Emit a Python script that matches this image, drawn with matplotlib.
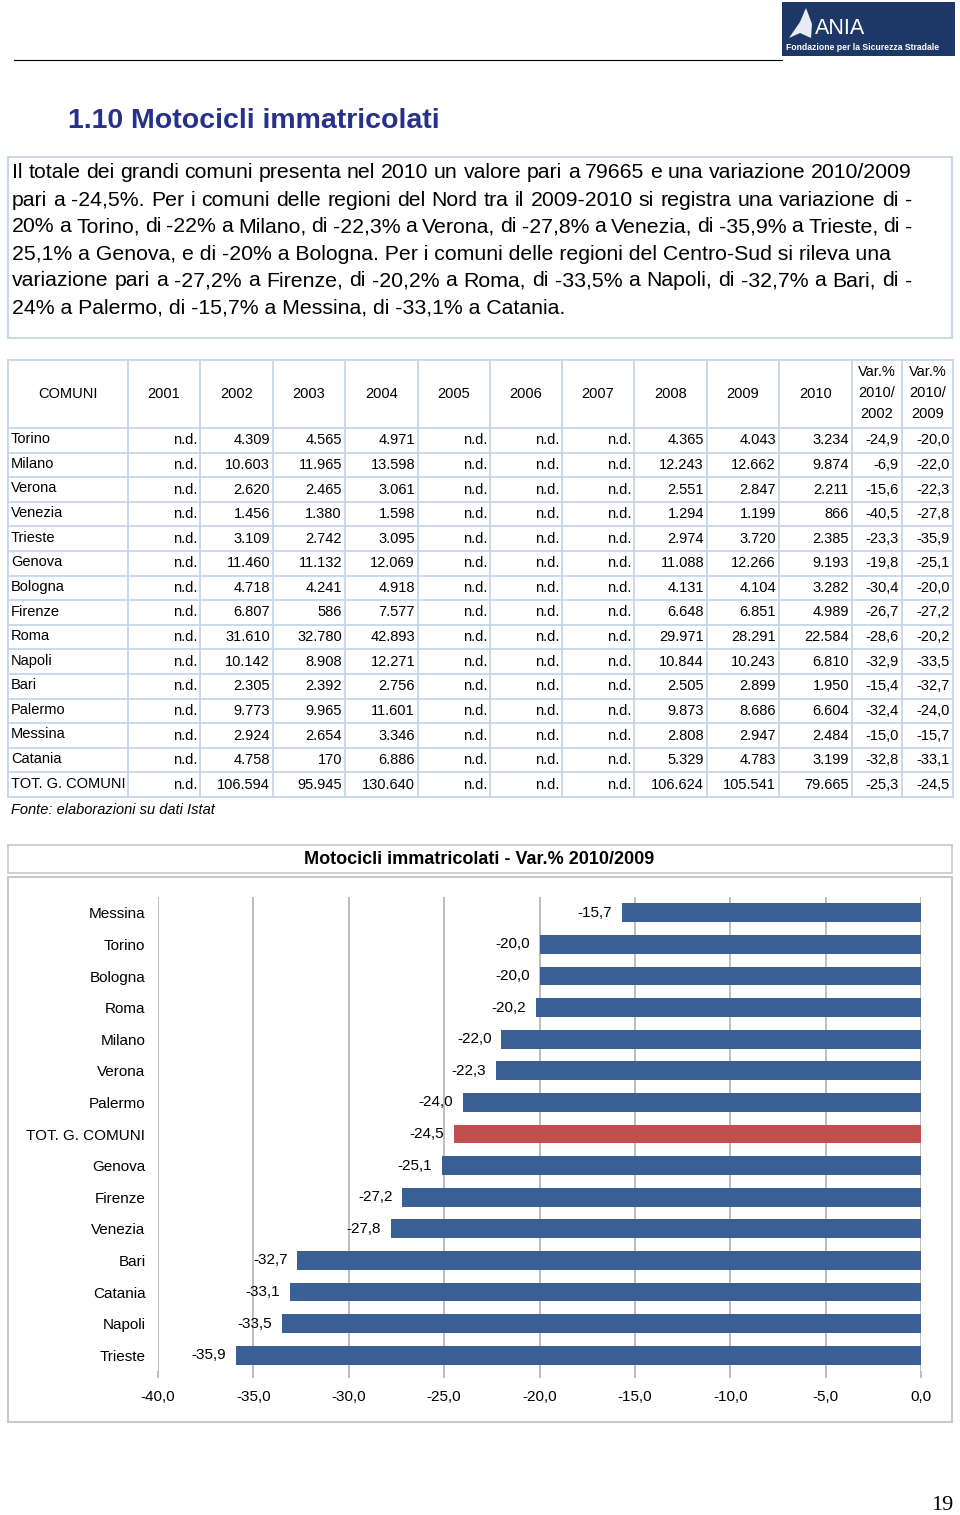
import matplotlib.pyplot as plt
from matplotlib.patches import Rectangle, Polygon

# dati tabella
comuni = ["Torino", "Milano", "Verona", "Venezia", "Trieste", "Genova", "Bologna",
          "Firenze", "Roma", "Napoli", "Bari", "Palermo", "Messina", "Catania",
          "TOT. G. COMUNI"]
anni = ["2001", "2002", "2003", "2004", "2005", "2006", "2007", "2008", "2009", "2010"]
v2002 = [4309, 10603, 2620, 1456, 3109, 11460, 4718, 6807, 31610, 10142, 2305, 9773, 2924, 4758, 106594]
v2003 = [4565, 11965, 2465, 1380, 2742, 11132, 4241, 586, 32780, 8908, 2392, 9965, 2654, 170, 95945]
v2004 = [4971, 13598, 3061, 1598, 3095, 12069, 4918, 7577, 42893, 12271, 2756, 11601, 3346, 6886, 130640]
v2008 = [4365, 12243, 2551, 1294, 2974, 11088, 4131, 6648, 29971, 10844, 2505, 9873, 2808, 5329, 106624]
v2009 = [4043, 12662, 2847, 1199, 3720, 12266, 4104, 6851, 28291, 10243, 2899, 8686, 2947, 4783, 105541]
v2010 = [3234, 9874, 2211, 866, 2385, 9193, 3282, 4989, 22584, 6810, 1950, 6604, 2484, 3199, 79665]
var_2002 = [-24.9, -6.9, -15.6, -40.5, -23.3, -19.8, -30.4, -26.7, -28.6, -32.9, -15.4, -32.4, -15.0, -32.8, -25.3]
var_2009 = [-20.0, -22.0, -22.3, -27.8, -35.9, -25.1, -20.0, -27.2, -20.2, -33.5, -32.7, -24.0, -15.7, -33.1, -24.5]

paragrafo = [
    "Il totale dei grandi comuni presenta nel 2010 un valore pari a 79665 e una variazione 2010/2009",
    "pari a -24,5%. Per i comuni delle regioni del Nord tra il 2009-2010 si registra una variazione di -",
    "20% a Torino, di -22% a Milano, di -22,3% a Verona, di  -27,8% a Venezia, di -35,9% a Trieste, di -",
    "25,1% a Genova, e di -20% a Bologna. Per i comuni delle regioni del Centro-Sud si rileva una",
    "variazione pari a -27,2% a Firenze, di -20,2% a Roma, di -33,5% a Napoli, di -32,7% a Bari, di -",
    "24% a Palermo, di -15,7% a Messina, di -33,1% a Catania.",
]
giustifica = [True, True, True, False, True, False]


def num(v):
    if v is None:
        return "n.d."
    return f"{v:,}".replace(",", ".")


def pct(v):
    return f"{v:.1f}".replace(".", ",")


plt.rcParams['font.family'] = ['Liberation Sans', 'DejaVu Sans']
W, H = 960, 1515
fig = plt.figure(figsize=(9.6, 15.15), dpi=100)
bg = fig.add_axes([0, 0, 1, 1])
bg.set_xlim(0, W)
bg.set_ylim(H, 0)
bg.axis('off')
renderer = fig.canvas.get_renderer()

# intestazione / logo
bg.add_patch(Rectangle((782, 2), 173, 54, facecolor='#1d3866', edgecolor='none'))
bg.add_patch(Polygon([(789, 38), (800, 22), (806, 8), (812, 24), (811, 38), (800, 33)],
                     closed=True, facecolor='#e8ecf2', edgecolor='none'))
bg.text(815, 29, "ANIA", color='white', fontsize=15.5, va='center', ha='left')
bg.text(786, 47, "Fondazione per la Sicurezza Stradale", color='white', fontsize=6.2,
        va='center', ha='left', fontweight='bold')
bg.plot([14, 782], [60, 60], color='black', lw=0.8)

bg.text(68, 121, "1.10 Motocicli immatricolati", color='#27308a', fontsize=20.5,
        fontweight='bold', va='center', ha='left')

# riquadro testo (giustificato)
bg.add_patch(Rectangle((8, 157), 944, 181, facecolor='none', edgecolor='#cdd7e5', lw=1.5))
pfs = 15.3
x_left, x_right = 12, 912
for i, riga in enumerate(paragrafo):
    y = 173 + i * 27
    if not giustifica[i]:
        bg.text(x_left, y, riga, fontsize=pfs, va='center', ha='left')
        continue
    parole = riga.split()
    larg = []
    for p in parole:
        t = bg.text(0, 0, p, fontsize=pfs)
        larg.append(t.get_window_extent(renderer).width)
        t.remove()
    gap = (x_right - x_left - sum(larg)) / (len(parole) - 1)
    x = x_left
    for p, w in zip(parole, larg):
        bg.text(x, y, p, fontsize=pfs, va='center', ha='left')
        x += w + gap

# tabella
col_x = [8, 128, 200, 273, 345, 418, 490, 562, 634, 707, 779, 852, 902, 953]
top, head_bot, row_h = 360, 428, 24.6
n = len(comuni)
bottom = head_bot + n * row_h
grid_c = '#c6d6ea'
for x in col_x:
    bg.plot([x, x], [top, bottom], color=grid_c, lw=1.3)
bg.plot([8, 953], [top, top], color=grid_c, lw=1.3)
bg.plot([8, 953], [head_bot, head_bot], color=grid_c, lw=1.3)
for r in range(n):
    y = head_bot + (r + 1) * row_h
    bg.plot([8, 953], [y, y], color=grid_c, lw=1.3)

hdr_y = (top + head_bot) / 2
tfs = 10.5
bg.text((col_x[0] + col_x[1]) / 2, hdr_y, "COMUNI", fontsize=tfs, ha='center', va='center')
for j, a in enumerate(anni):
    bg.text((col_x[j + 1] + col_x[j + 2]) / 2, hdr_y, a, fontsize=tfs, ha='center', va='center')
for j, a in enumerate(["2002", "2009"]):
    cx = (col_x[11 + j] + col_x[12 + j]) / 2
    bg.text(cx, hdr_y - 1, "Var.%\n2010/\n" + a, fontsize=tfs, ha='center', va='center',
            linespacing=1.6)

for r, nome in enumerate(comuni):
    y = head_bot + (r + 0.5) * row_h
    vals = [None, v2002[r], v2003[r], v2004[r], None, None, None, v2008[r], v2009[r], v2010[r]]
    celle = [num(v) for v in vals] + [pct(var_2002[r]), pct(var_2009[r])]
    bg.text(11, y - 1, nome, fontsize=tfs, ha='left', va='center')
    for j, c in enumerate(celle):
        bg.text(col_x[j + 2] - 3, y, c, fontsize=tfs, ha='right', va='center')

bg.text(11, 810, "Fonte: elaborazioni su dati Istat", fontsize=tfs, style='italic',
        ha='left', va='center')

# grafico
bg.add_patch(Rectangle((8, 845), 944, 28, facecolor='white', edgecolor='#cccccc', lw=1.3))
bg.text(479, 859, "Motocicli immatricolati - Var.% 2010/2009", fontsize=13,
        fontweight='bold', ha='center', va='center')
bg.add_patch(Rectangle((8, 877), 944, 545, facecolor='white', edgecolor='#c8c8c8', lw=1.5))

ordine = sorted(range(n), key=lambda i: -var_2009[i])
nomi_g = [comuni[i] for i in ordine]
vals_g = [var_2009[i] for i in ordine]
colori = ['#c0504d' if comuni[i].startswith("TOT") else '#395f94' for i in ordine]

px0, px1, py0, py1 = 158, 921, 897, 1371
ax = fig.add_axes([px0 / W, 1 - py1 / H, (px1 - px0) / W, (py1 - py0) / H])
ax.set_facecolor('none')
pos = list(range(len(nomi_g)))
ax.barh(pos, vals_g, height=0.6, color=colori, zorder=3)
ax.set_xlim(-40, 0)
ax.set_ylim(len(nomi_g) - 0.5, -0.5)
ax.set_yticks(pos)
ax.set_yticklabels(nomi_g, fontsize=11)
ticks = list(range(-40, 1, 5))
ax.set_xticks(ticks)
ax.set_xticklabels([pct(t) for t in ticks], fontsize=11)
ax.tick_params(axis='y', length=0, pad=9)
ax.tick_params(axis='x', length=5, color='#b8b8b8', width=1.3, pad=8.5)
ax.grid(axis='x', color='#b8b8b8', lw=1.3, zorder=0)
for s in ax.spines.values():
    s.set_visible(False)
for p, v in zip(pos, vals_g):
    ax.annotate(pct(v), (v, p), xytext=(-7, 0), textcoords='offset points',
                ha='right', va='center', fontsize=11)

bg.text(942, 1505, "19", fontsize=16, family='Liberation Serif', ha='center', va='center')

fig.savefig("out.png", dpi=100)
